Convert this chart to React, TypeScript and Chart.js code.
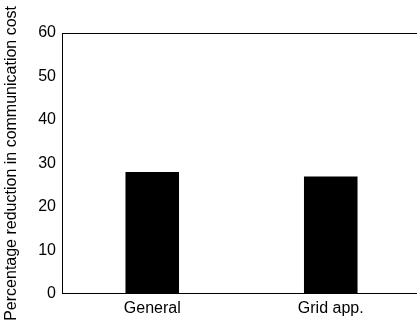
import React, { useEffect, useRef } from "react";
import { Chart, registerables } from "chart.js";

Chart.register(...registerables);

const categories = ["General", "Grid app."];
const reductionValues = [28, 27];
const yTickMin = 0;
const yTickMax = 60;
const yTickStep = 10;
const yAxisTitle = "Percentage reduction in communication cost";

export default function App() {
  const ref = useRef<HTMLCanvasElement | null>(null);
  useEffect(() => {
    document.body.style.margin = "0";
    document.body.style.overflow = "hidden";
    const ctx = ref.current!;
    const font = { family: "'Liberation Sans', Arial, sans-serif", size: 16 };
    const chart = new Chart(ctx, {
      type: "bar",
      data: {
        labels: categories,
        datasets: [
          {
            data: reductionValues,
            backgroundColor: "#000000",
            borderWidth: 0,
            barPercentage: 0.3,
            categoryPercentage: 1,
          },
        ],
      },
      options: {
        animation: false,
        responsive: false,
        maintainAspectRatio: false,
        layout: { padding: { top: 33, right: 0, bottom: 0, left: 2 } },
        plugins: { legend: { display: false }, tooltip: { enabled: false } },
        scales: {
          x: {
            grid: { display: false, drawTicks: false },
            border: { display: true, color: "#000", width: 1 },
            ticks: { color: "#000", font, padding: 5 },
          },
          y: {
            min: yTickMin,
            max: yTickMax,
            grid: {
              drawTicks: false,
              color: (c: any) => (c.tick && c.tick.value === yTickMax ? "#000" : "rgba(0,0,0,0)"),
              lineWidth: 1,
            },
            border: { display: true, color: "#000", width: 1 },
            ticks: { stepSize: yTickStep, color: "#000", font, padding: 7 },
            title: { display: true, text: yAxisTitle, color: "#000", font, padding: { top: 0, bottom: 10 } },
          },
        },
      },
    });
    return () => chart.destroy();
  }, []);
  return (
    <div style={{ width: 420, height: 323 }}>
      <canvas ref={ref} width={420} height={323} style={{ display: "block" }} />
    </div>
  );
}
